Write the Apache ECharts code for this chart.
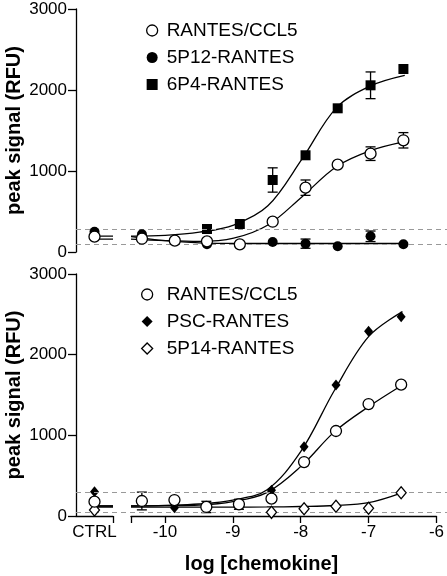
<!DOCTYPE html>
<html><head><meta charset="utf-8">
<script src="https://cdn.jsdelivr.net/npm/echarts@6/dist/echarts.min.js"></script>
<style>html,body{margin:0;padding:0;background:#fff}#c{width:447px;height:576px}</style>
</head><body><div id="c"></div>
<script>
// ---------- data ----------
const logConc = [-10.34, -9.86, -9.39, -8.91, -8.43, -7.95, -7.48, -7.00, -6.52];
const curveX  = [-10.5, -10, -9.5, -9, -8.5, -8, -7.5, -7, -6.5];
const xTickValues = [-10, -9, -8, -7, -6];
const xTickLabels = ['-10', '-9', '-8', '-7', '-6'];
const ctrlLabel = 'CTRL';
const yTickValues = [0, 1000, 2000, 3000];
const yTickLabels = ['0', '1000', '2000', '3000'];

// top panel
const topRantes    = [164, 140, 132, 95, 374, 794, 1078, 1214, 1379];
const topRantesErr = [0, 0, 0, 0, 0, 95, 0, 84, 95];
const top5P12      = [218, 140, 95, 95, 123, 103, 70, 194, 95];
const top5P12Err   = [0, 0, 0, 0, 0, 57, 0, 65, 0];
const top6P4       = [null, null, 284, 346, 889, 1194, 1774, 2058, 2259];
const top6P4Err    = [0, 0, 0, 0, 150, 0, 0, 165, 0];
const topCtrl      = {rantes: 189, p5p12: 251};
const topRantesCurve = [160, 140, 130, 170, 333, 683, 1053, 1251, 1362];
const top5P12Curve   = [190, 140, 112, 106, 105, 105, 105, 105, 105];
const top6P4Curve    = [195, 205, 245, 333, 570, 1150, 1780, 2050, 2180];
const topDash = [280, 100];

// bottom panel
const botRantes    = [186, 198, 112, 145, 215, 669, 1054, 1388, 1628];
const botRantesErr = [110, 0, 70, 62, 0, 0, 0, 0, 0];
const botPsc       = [170, 103, 115, 150, 318, 860, 1624, 2289, 2471];
const bot5P14      = [null, null, null, null, 45, 91, 120, 95, 289];
const botCtrl      = {rantes: 177, psc: 301, p5p14: 74};
const botRantesCurve = [124, 128, 135, 178, 289, 612, 1046, 1355, 1624];
const botPscCurve    = [124, 132, 149, 198, 322, 797, 1562, 2223, 2533];
const bot5P14Curve   = [110, 110, 110, 110, 112, 118, 130, 165, 290];
const botDash = [300, 50];

const ctrlX = 0.5;

// ---------- helpers ----------
const FONT = 'Liberation Sans, Arial, Helvetica, sans-serif';
const zip = (xs, ys) => xs.map((x, i) => [x, ys[i]]).filter(p => p[1] != null);
const errData = (ys, es) => logConc.map((x, i) => [x, ys[i], es[i]]).filter(p => p[2] > 0);

const open = {color: '#fff', borderColor: '#000', borderWidth: 1.3, opacity: 1};
const filled = {color: '#000', borderColor: '#000', borderWidth: 0, opacity: 1};

function curve(name, xi, yi, ys) {
  return {type: 'line', xAxisIndex: xi, yAxisIndex: yi, data: zip(curveX, ys), smooth: 0.35,
    showSymbol: false, symbol: 'none', silent: true, z: 2,
    lineStyle: {color: '#000', width: 1.3}};
}
function ctrlCurve(xi, yi, v) {
  return {type: 'line', xAxisIndex: xi, yAxisIndex: yi, data: [[ctrlX, v], [1, v]],
    showSymbol: false, symbol: 'none', silent: true, z: 2, lineStyle: {color: '#000', width: 1.3}};
}
function errBars(xi, yi, data) {
  return {type: 'custom', xAxisIndex: xi, yAxisIndex: yi, data: data, z: 3, silent: true,
    renderItem: function (params, api) {
      const x = api.value(0), y = api.value(1), e = api.value(2);
      const t = api.coord([x, y + e]), b = api.coord([x, y - e]);
      const hw = 5;
      const st = {stroke: '#000', lineWidth: 1.3, fill: null};
      return {type: 'group', children: [
        {type: 'line', shape: {x1: t[0], y1: t[1], x2: b[0], y2: b[1]}, style: st},
        {type: 'line', shape: {x1: t[0] - hw, y1: t[1], x2: t[0] + hw, y2: t[1]}, style: st},
        {type: 'line', shape: {x1: b[0] - hw, y1: b[1], x2: b[0] + hw, y2: b[1]}, style: st}
      ]};
    }};
}
function pts(name, xi, yi, data, symbol, size, style, z) {
  return {type: 'scatter', name: name, xAxisIndex: xi, yAxisIndex: yi, data: data,
    symbol: symbol, symbolSize: size, itemStyle: style, z: z, silent: true};
}
function dashes(xi, yi, vals) {
  return {type: 'line', xAxisIndex: xi, yAxisIndex: yi, data: [], silent: true, z: 1,
    markLine: {silent: true, symbol: ['none', 'none'], label: {show: false},
      lineStyle: {color: '#999', width: 1, type: [5, 4]},
      data: vals.map(v => ({yAxis: v}))}};
}

// ---------- layout ----------
const panels = [{top: 9, height: 243}, {top: 274, height: 242}];
const grids = [];
panels.forEach(p => {
  grids.push({left: 76, width: 37, top: p.top, height: p.height});
  grids.push({left: 131, width: 308, top: p.top, height: p.height});
  grids.push({left: 76, width: 371, top: p.top, height: p.height});
});

const hidden = {show: false};
const xAxes = [
  {gridIndex: 0, type: 'value', min: 0, max: 1, show: false},
  {gridIndex: 1, type: 'value', min: -10.5, max: -6, show: false},
  {gridIndex: 2, type: 'value', min: 0, max: 1, show: false},
  {gridIndex: 3, type: 'value', min: 0, max: 1,
    axisLine: {show: true, onZero: false, lineStyle: {color: '#000', width: 1.3}},
    axisTick: {show: true, length: 7, customValues: [1], lineStyle: {color: '#000', width: 1.3}},
    axisLabel: {show: true, customValues: [ctrlX], formatter: () => ctrlLabel, margin: 8,
      color: '#000', fontSize: 17, fontFamily: FONT},
    splitLine: hidden},
  {gridIndex: 4, type: 'value', min: -10.5, max: -6,
    axisLine: {show: true, onZero: false, lineStyle: {color: '#000', width: 1.3}},
    axisTick: {show: true, length: 7, customValues: [-10.5].concat(xTickValues), lineStyle: {color: '#000', width: 1.3}},
    axisLabel: {show: true, customValues: xTickValues, margin: 8,
      formatter: v => xTickLabels[xTickValues.indexOf(v)] ?? '',
      color: '#000', fontSize: 17, fontFamily: FONT},
    splitLine: hidden},
  {gridIndex: 5, type: 'value', min: 0, max: 1, show: true,
    axisLine: hidden, axisTick: hidden, axisLabel: hidden, splitLine: hidden,
    name: 'log [chemokine]', nameLocation: 'middle', nameGap: 38,
    nameTextStyle: {color: '#000', fontSize: 20, fontWeight: 'bold', fontFamily: FONT}}
];

function shownY(gi) {
  return {gridIndex: gi, type: 'value', min: 0, max: 3000, interval: 1000,
    axisLine: {show: true, onZero: false, lineStyle: {color: '#000', width: 1.3}},
    axisTick: {show: true, length: 8, lineStyle: {color: '#000', width: 1.3}},
    axisLabel: {show: true, margin: 9, color: '#000', fontSize: 17, fontFamily: FONT,
      customValues: yTickValues,
      formatter: v => yTickLabels[yTickValues.indexOf(v)] ?? ''},
    splitLine: hidden,
    name: 'peak signal (RFU)', nameLocation: 'middle', nameGap: 52,
    nameTextStyle: {color: '#000', fontSize: 20, fontWeight: 'bold', fontFamily: FONT}};
}
function hiddenY(gi) { return {gridIndex: gi, type: 'value', min: 0, max: 3000, show: false}; }
const yAxes = [shownY(0), hiddenY(1), hiddenY(2), shownY(3), hiddenY(4), hiddenY(5)];

// ---------- series ----------
const series = [
  dashes(2, 2, topDash),
  dashes(5, 5, botDash),
  // top curves
  curve('', 1, 1, top6P4Curve), curve('', 1, 1, top5P12Curve), curve('', 1, 1, topRantesCurve),
  ctrlCurve(0, 0, top6P4Curve[0]), ctrlCurve(0, 0, topRantesCurve[0]),
  errBars(1, 1, errData(top6P4, top6P4Err)),
  errBars(1, 1, errData(top5P12, top5P12Err)),
  errBars(1, 1, errData(topRantes, topRantesErr)),
  pts('6P4-RANTES', 1, 1, zip(logConc, top6P4), 'rect', 10, filled, 4),
  pts('5P12-RANTES', 1, 1, zip(logConc, top5P12), 'circle', 10, filled, 5),
  pts('RANTES/CCL5', 1, 1, zip(logConc, topRantes), 'circle', 11, open, 6),
  pts('5P12-RANTES', 0, 0, [[ctrlX, topCtrl.p5p12]], 'circle', 10, filled, 5),
  pts('RANTES/CCL5', 0, 0, [[ctrlX, topCtrl.rantes]], 'circle', 11, open, 6),
  // bottom curves
  curve('', 4, 4, botPscCurve), curve('', 4, 4, botRantesCurve), curve('', 4, 4, bot5P14Curve),
  ctrlCurve(3, 3, botPscCurve[0]), ctrlCurve(3, 3, botRantesCurve[0]), ctrlCurve(3, 3, bot5P14Curve[0]),
  errBars(4, 4, errData(botRantes, botRantesErr)),
  pts('PSC-RANTES', 4, 4, zip(logConc, botPsc), 'diamond', [9, 11], filled, 4),
  pts('RANTES/CCL5', 4, 4, zip(logConc, botRantes), 'circle', 11, open, 6),
  pts('5P14-RANTES', 4, 4, zip(logConc, bot5P14), 'diamond', [10, 12], open, 5),
  pts('PSC-RANTES', 3, 3, [[ctrlX, botCtrl.psc]], 'diamond', [9, 11], filled, 4),
  pts('RANTES/CCL5', 3, 3, [[ctrlX, botCtrl.rantes]], 'circle', 11, open, 6),
  pts('5P14-RANTES', 3, 3, [[ctrlX, botCtrl.p5p14]], 'diamond', [10, 12], open, 5)
];

const legText = {color: '#000', fontSize: 19, fontFamily: FONT, padding: [0, 0, 0, 4]};
const legends = [
  {orient: 'vertical', left: 141, top: 16, itemGap: 8, itemWidth: 11, itemHeight: 11,
   selectedMode: false, textStyle: legText,
   data: [
     {name: 'RANTES/CCL5', icon: 'circle', itemStyle: open},
     {name: '5P12-RANTES', icon: 'circle', itemStyle: filled},
     {name: '6P4-RANTES', icon: 'rect', itemStyle: filled}
   ]},
  {orient: 'vertical', left: 136, top: 280, itemGap: 8, itemWidth: 11, itemHeight: 11,
   selectedMode: false, textStyle: Object.assign({}, legText, {padding: [0, 0, 0, 9]}),
   data: [
     {name: 'RANTES/CCL5', icon: 'circle', itemStyle: open},
     {name: 'PSC-RANTES', icon: 'diamond', itemStyle: filled},
     {name: '5P14-RANTES', icon: 'diamond', itemStyle: open}
   ]}
];

const chart = echarts.init(document.getElementById('c'), null, {renderer: 'canvas'});
chart.setOption({
  animation: false,
  backgroundColor: '#fff',
  grid: grids, xAxis: xAxes, yAxis: yAxes,
  legend: legends,
  series: series
});
</script></body></html>
